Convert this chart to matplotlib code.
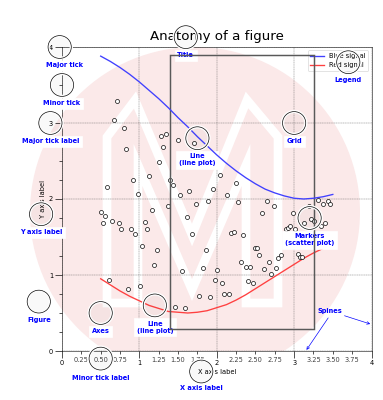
import matplotlib
matplotlib.use("Agg")
import matplotlib.pyplot as plt
from matplotlib.patches import Circle, Rectangle, Polygon
from matplotlib.patheffects import withStroke
from matplotlib.ticker import AutoMinorLocator, MultipleLocator, FuncFormatter


DPI = 48
FIG_W, FIG_H = 383, 400

# curves
LINE_X = [0.5, 0.625, 0.75, 0.875, 1.0, 1.125, 1.25, 1.375, 1.5, 1.625, 1.75, 1.875,
          2.0, 2.125, 2.25, 2.375, 2.5, 2.625, 2.75, 2.875, 3.0, 3.125, 3.25, 3.375, 3.5]
BLUE_Y = [3.88, 3.81, 3.73, 3.64, 3.54, 3.43, 3.32, 3.20, 3.07, 2.95, 2.82, 2.70,
          2.58, 2.47, 2.37, 2.28, 2.20, 2.13, 2.08, 2.04, 2.01, 2.00, 2.01, 2.03, 2.06]
RED_Y = [0.95, 0.87, 0.79, 0.72, 0.66, 0.60, 0.56, 0.52, 0.51, 0.50, 0.51, 0.53,
         0.57, 0.61, 0.67, 0.74, 0.82, 0.90, 0.98, 1.06, 1.14, 1.22, 1.29, 1.35, 1.41]

# scatter markers
SCATTER_X = [0.50, 0.556, 0.525, 0.586, 0.612, 0.646, 0.672, 0.706, 0.736, 0.767,
             0.797, 0.823, 0.857, 0.887, 0.913, 0.948, 0.982, 1.008, 1.038, 1.068,
             1.098, 1.128, 1.158, 1.189, 1.223, 1.249, 1.275, 1.309, 1.339, 1.370,
             1.400, 1.434, 1.460, 1.494, 1.525, 1.555, 1.585, 1.615, 1.641, 1.675,
             1.705, 1.736, 1.766, 1.826, 1.856, 1.886, 1.917, 1.947, 1.981, 2.007,
             2.037, 2.072, 2.097, 2.128, 2.162, 2.188, 2.222, 2.252, 2.278, 2.308,
             2.343, 2.373, 2.403, 2.433, 2.463, 2.489, 2.519, 2.550, 2.584, 2.614,
             2.644, 2.674, 2.705, 2.735, 2.765, 2.795, 2.825, 2.890, 2.916, 2.946,
             2.980, 3.010, 3.045, 3.075, 3.101, 3.131, 3.191, 3.221, 3.251, 3.312,
             3.342, 3.372, 3.402, 3.432, 3.463]
SCATTER_Y = [1.83, 1.77, 1.68, 2.16, 0.94, 1.71, 3.04, 3.29, 1.68, 1.61,
             2.93, 2.66, 0.82, 1.60, 2.25, 1.54, 2.07, 0.85, 1.38, 1.70,
             1.60, 2.30, 1.86, 1.13, 1.33, 2.49, 2.83, 2.68, 2.85, 1.91,
             2.25, 2.18, 0.58, 2.78, 2.05, 1.05, 0.57, 1.76, 2.10, 1.54,
             2.74, 1.93, 0.72, 1.09, 1.33, 1.98, 0.71, 2.13, 0.93, 1.07,
             2.31, 0.89, 0.75, 2.05, 0.75, 1.55, 1.57, 2.21, 1.96, 1.17,
             1.52, 1.10, 0.92, 1.11, 0.90, 1.35, 1.36, 1.26, 1.82, 1.08,
             1.97, 1.17, 1.01, 1.91, 1.09, 1.23, 1.26, 1.61, 1.62, 1.64,
             1.81, 1.61, 1.28, 1.24, 1.24, 1.69, 1.91, 1.74, 1.71, 1.99,
             1.65, 1.94, 1.68, 1.98, 1.94]

# the dark frame drawn inside the axes
BOX_X = (1.39, 3.255)
BOX_Y = (0.29, 3.90)

# (circle x, circle y, text x, text y, label)
CALLOUTS = [
    (0.50, -0.10, 0.50, -0.32, "Minor tick label"),
    (-0.03, 4.00, 0.03, 3.80, "Major tick"),
    (0.00, 3.50, 0.00, 3.30, "Minor tick"),
    (-0.15, 3.00, -0.15, 2.80, "Major tick label"),
    (1.80, -0.27, 1.80, -0.45, "X axis label"),
    (-0.27, 1.80, -0.27, 1.60, "Y axis label"),
    (1.60, 4.13, 1.60, 3.93, "Title"),
    (1.75, 2.80, 1.75, 2.60, "Line\n(line plot)"),
    (1.20, 0.60, 1.20, 0.40, "Line\n(line plot)"),
    (3.20, 1.75, 3.20, 1.55, "Markers\n(scatter plot)"),
    (3.00, 3.00, 3.00, 2.80, "Grid"),
    (3.70, 3.80, 3.70, 3.60, "Legend"),
    (0.50, 0.50, 0.50, 0.30, "Axes"),
    (-0.30, 0.65, -0.30, 0.45, "Figure"),
]


def minor_tick(x, pos):
    if not x % 1.0:
        return ""
    return "%.2f" % x


fig = plt.figure(figsize=(FIG_W / DPI, FIG_H / DPI), dpi=DPI)

# watermark behind everything, in pixel units of the figure
bg = fig.add_axes([0, 0, 1, 1], zorder=0)
bg.set_xlim(0, FIG_W)
bg.set_ylim(FIG_H, 0)
bg.axis("off")
clip = Rectangle((0, 0), FIG_W, 351, transform=bg.transData)
disc = Circle((195, 212), 165, facecolor="#fbe9e9", edgecolor="none")
bg.add_patch(disc)
disc.set_clip_path(clip)
logo = Polygon([(107, 303), (107, 137), (135, 100), (192, 235), (247, 100),
                (278, 137), (278, 303), (246, 303), (246, 165), (192, 290),
                (138, 165), (138, 303)],
               closed=True, fill=False, edgecolor="white", linewidth=13,
               joinstyle="miter")
bg.add_patch(logo)
logo.set_clip_path(clip)

ax = fig.add_axes([62 / FIG_W, 1 - 351 / FIG_H, 309.5 / FIG_W, 304 / FIG_H], zorder=1)
ax.set_facecolor("none")

ax.xaxis.set_major_locator(MultipleLocator(1.000))
ax.xaxis.set_minor_locator(AutoMinorLocator(4))
ax.yaxis.set_major_locator(MultipleLocator(1.000))
ax.yaxis.set_minor_locator(AutoMinorLocator(4))
ax.xaxis.set_minor_formatter(FuncFormatter(minor_tick))

ax.set_xlim(0, 4)
ax.set_ylim(0, 4)

ax.tick_params(which="major", width=1.0, length=10)
ax.tick_params(which="minor", width=1.0, length=5, labelsize=10, labelcolor="0.25")

ax.grid(linestyle="--", linewidth=0.5, color=".25", zorder=-10)

ax.plot(LINE_X, BLUE_Y, c=(0.25, 0.25, 1.00), lw=2, label="Blue signal", zorder=10)
ax.plot(LINE_X, RED_Y, c=(1.00, 0.25, 0.25), lw=2, label="Red signal")
ax.plot(SCATTER_X, SCATTER_Y, linewidth=0,
        marker="o", markerfacecolor="w", markeredgecolor="k")

ax.add_patch(Rectangle((BOX_X[0], BOX_Y[0]), BOX_X[1] - BOX_X[0], BOX_Y[1] - BOX_Y[0],
                       fill=False, edgecolor="0.35", linewidth=2.2, zorder=6))

ax.set_title("Anatomy of a figure", fontsize=20, verticalalignment="bottom")
ax.set_xlabel("X axis label")
ax.set_ylabel("Y axis label")

ax.legend(loc="upper right")

for cx, cy, tx, ty, label in CALLOUTS:
    ring = Circle((cx, cy), 0.15, clip_on=False, zorder=10, linewidth=1,
                  edgecolor="black", facecolor=(0, 0, 0, .0125),
                  path_effects=[withStroke(linewidth=5, foreground="w")])
    ax.add_artist(ring)
    ax.text(tx, ty, label, backgroundcolor="white",
            ha="center", va="top", weight="bold", color="blue")

color = "blue"
ax.annotate("Spines", xy=(4.0, 0.35), xycoords="data",
            xytext=(3.3, 0.5), textcoords="data",
            weight="bold", color=color,
            arrowprops=dict(arrowstyle="->", connectionstyle="arc3", color=color))
ax.annotate("", xy=(3.15, 0.0), xycoords="data",
            xytext=(3.45, 0.45), textcoords="data",
            weight="bold", color=color,
            arrowprops=dict(arrowstyle="->", connectionstyle="arc3", color=color))

fig.savefig("out.png", dpi=DPI)
